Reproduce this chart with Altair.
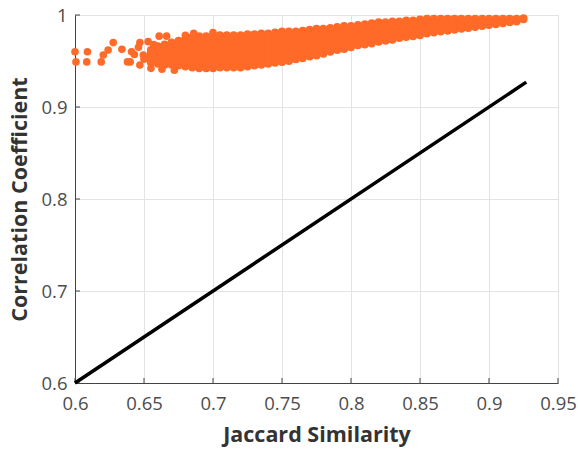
import altair as alt
import pandas as pd

# Scattered pairs (Jaccard similarity, correlation coefficient) at the sparse low end
sparse_x = [0.600, 0.6007, 0.6085, 0.609, 0.619, 0.6205, 0.624, 0.6277, 0.634, 0.638,
            0.640, 0.641, 0.643, 0.646, 0.647, 0.647, 0.6495, 0.653, 0.655, 0.661,
            0.6664, 0.680, 0.686, 0.700, 0.650, 0.657, 0.663, 0.672]
sparse_y = [0.960, 0.949, 0.949, 0.960, 0.949, 0.9565, 0.962, 0.970, 0.9627, 0.949,
            0.949, 0.960, 0.957, 0.965, 0.970, 0.9457, 0.9565, 0.971, 0.942, 0.977,
            0.977, 0.978, 0.980, 0.981, 0.952, 0.968, 0.941, 0.940]

# Dense part of the cloud: per Jaccard bin, lowest and highest correlation observed
bin_x = [0.655, 0.660, 0.665, 0.670, 0.675, 0.680, 0.685, 0.690, 0.695, 0.700,
         0.705, 0.710, 0.715, 0.720, 0.725, 0.730, 0.735, 0.740, 0.745, 0.750,
         0.755, 0.760, 0.765, 0.770, 0.775, 0.780, 0.785, 0.790, 0.795, 0.800,
         0.805, 0.810, 0.815, 0.820, 0.825, 0.830, 0.835, 0.840, 0.845, 0.850,
         0.855, 0.860, 0.865, 0.870, 0.875, 0.880, 0.885, 0.890, 0.895, 0.900,
         0.905, 0.910, 0.915, 0.920, 0.925]
bin_lo = [0.948, 0.947, 0.946, 0.946, 0.945, 0.944, 0.943, 0.942, 0.942, 0.942,
          0.943, 0.943, 0.943, 0.943, 0.944, 0.945, 0.946, 0.947, 0.948, 0.949,
          0.950, 0.952, 0.953, 0.955, 0.956, 0.958, 0.960, 0.962, 0.963, 0.965,
          0.967, 0.968, 0.969, 0.971, 0.972, 0.973, 0.975, 0.976, 0.977, 0.978,
          0.980, 0.981, 0.982, 0.983, 0.984, 0.985, 0.986, 0.987, 0.988, 0.989,
          0.990, 0.991, 0.992, 0.993, 0.9955]
bin_hi = [0.962, 0.966, 0.968, 0.970, 0.972, 0.974, 0.976, 0.977, 0.977, 0.977,
          0.978, 0.978, 0.978, 0.978, 0.979, 0.979, 0.980, 0.980, 0.981, 0.982,
          0.982, 0.982, 0.983, 0.984, 0.985, 0.985, 0.986, 0.987, 0.988, 0.988,
          0.989, 0.990, 0.991, 0.992, 0.992, 0.993, 0.993, 0.994, 0.994, 0.995,
          0.996, 0.996, 0.996, 0.996, 0.996, 0.996, 0.996, 0.996, 0.996, 0.996,
          0.996, 0.996, 0.996, 0.996, 0.9965]

# Identity reference line
diag_x = [0.6, 0.927]
diag_y = [0.6, 0.927]

x_ticks = [0.6, 0.65, 0.7, 0.75, 0.8, 0.85, 0.9, 0.95]
y_ticks = [0.6, 0.7, 0.8, 0.9, 1.0]

W, H = 483, 368
ORANGE = "#FF6A28"
FONT = "Open Sans"

xs = alt.Scale(domain=[0.6, 0.95], nice=False, zero=False)
ys = alt.Scale(domain=[0.6, 1.0], nice=False, zero=False)

common = dict(format="~g", grid=True, gridColor="#e3e3e3", ticks=False,
              domainColor="#444444", labelColor="#4d4d4d", labelFontSize=18.5,
              labelFont=FONT, labelFlush=False, titleFont=FONT, titleFontSize=21.5,
              titleFontWeight="bold", titleColor="#333333")
x_axis = alt.Axis(values=x_ticks, labelPadding=11, title="Jaccard Similarity",
                  titlePadding=12, **common)
y_axis = alt.Axis(values=y_ticks, labelPadding=8, title="Correlation Coefficient",
                  titlePadding=9, **common)

sparse_df = pd.DataFrame({"j": sparse_x, "r": sparse_y})
bins_df = pd.DataFrame({"j": bin_x, "lo": bin_lo, "hi": bin_hi})
diag_df = pd.DataFrame({"j": diag_x, "r": diag_y})
xt_df = pd.DataFrame({"t": x_ticks})
yt_df = pd.DataFrame({"t": y_ticks})

# Empty frame carrying the axes and grid
frame = alt.Chart(diag_df).mark_point(opacity=0).encode(
    x=alt.X("j:Q", scale=xs, axis=x_axis),
    y=alt.Y("r:Q", scale=ys, axis=y_axis),
)

dense = alt.Chart(bins_df).mark_rule(color=ORANGE, strokeWidth=8, strokeCap="round").encode(
    x=alt.X("j:Q", scale=xs),
    y=alt.Y("lo:Q", scale=ys),
    y2="hi:Q",
)

sparse = alt.Chart(sparse_df).mark_circle(color=ORANGE, size=58, opacity=1).encode(
    x=alt.X("j:Q", scale=xs),
    y=alt.Y("r:Q", scale=ys),
)

diag = alt.Chart(diag_df).mark_line(color="black", strokeWidth=3.5).encode(
    x=alt.X("j:Q", scale=xs),
    y=alt.Y("r:Q", scale=ys),
)

# Inward-pointing tick marks on the bottom and left axes
xticks = alt.Chart(xt_df).mark_rule(color="#444444", strokeWidth=1).encode(
    x=alt.X("t:Q", scale=xs),
    y=alt.value(H),
    y2=alt.value(H - 5),
)
yticks = alt.Chart(yt_df).mark_rule(color="#444444", strokeWidth=1).encode(
    y=alt.Y("t:Q", scale=ys),
    x=alt.value(0),
    x2=alt.value(5),
)

chart = alt.layer(frame, xticks, yticks, dense, sparse, diag).properties(
    width=W, height=H,
    autosize=alt.AutoSizeParams(type="none"),
    padding={"left": 75, "top": 15, "right": 20, "bottom": 68},
).configure_view(stroke=None).configure(background="white")

chart.save("out.html", embed_options={"renderer": "svg", "actions": False})
